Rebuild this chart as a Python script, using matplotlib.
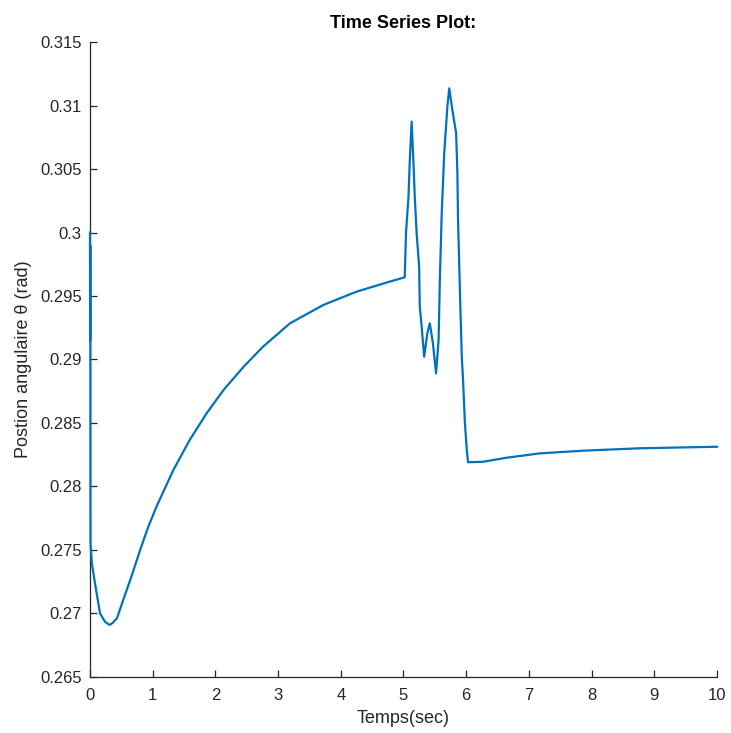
import matplotlib.pyplot as plt

# time (s) and angular position (rad)
t = [0.0, 0.002, 0.004, 0.006, 0.008, 0.012, 0.03, 0.08, 0.16, 0.24, 0.31, 0.36, 0.43, 0.53,
     0.66, 0.80, 0.93, 1.06, 1.33, 1.59, 1.86, 2.13, 2.45, 2.76, 3.19, 3.72, 4.25, 4.78, 5.02,
     5.04, 5.08, 5.10, 5.13, 5.16, 5.18, 5.21, 5.25, 5.26, 5.29, 5.33, 5.38,
     5.42, 5.47, 5.52, 5.56, 5.58, 5.61, 5.65, 5.70, 5.73, 5.78, 5.84, 5.86,
     5.87, 5.89, 5.91, 5.93, 5.95, 5.98, 6.01, 6.03, 6.27, 6.65, 7.18, 7.87,
     8.77, 10.0]
theta = [0.300, 0.2915, 0.2990, 0.2918, 0.2758, 0.2752, 0.27395, 0.27238, 0.27001, 0.26935,
         0.26910, 0.26925, 0.26962, 0.27106, 0.27290, 0.27500, 0.27683, 0.27841, 0.28130,
         0.28366, 0.28576, 0.28760, 0.28943, 0.29101, 0.29285, 0.29429, 0.29534, 0.29613,
         0.29647,
         0.29994, 0.30282, 0.30558, 0.30873, 0.30545, 0.30282, 0.29994, 0.29731,
         0.29416, 0.29258, 0.29022, 0.29206, 0.29285, 0.29127, 0.28891, 0.29154,
         0.29626, 0.30151, 0.30624, 0.30991, 0.31135, 0.30965, 0.30781, 0.30466,
         0.30099, 0.29731, 0.29364, 0.29022, 0.28839, 0.28498, 0.28287, 0.28191,
         0.28195, 0.28227, 0.28261, 0.28282, 0.28301, 0.28313]

plt.rcParams['font.family'] = ['Liberation Sans', 'DejaVu Sans']
grey = '#262626'

fig = plt.figure(figsize=(7.31, 7.33), dpi=100)
ax = fig.add_axes([0.1231, 0.0764, 0.8577, 0.8663])
ax.plot(t, theta, color='#0072BD', linewidth=1.6, zorder=3, clip_on=False)

ax.set_xlim(0, 10)
ax.set_ylim(0.265, 0.315)
ax.set_xticks(range(0, 11))
yt = [0.265, 0.27, 0.275, 0.28, 0.285, 0.29, 0.295, 0.3, 0.305, 0.31, 0.315]
ax.set_yticks(yt)
ax.set_yticklabels(['%g' % v for v in yt])

for s in ['top', 'right']:
    ax.spines[s].set_visible(False)
for s in ['left', 'bottom']:
    ax.spines[s].set_color(grey)
    ax.spines[s].set_linewidth(0.9)
ax.tick_params(direction='in', length=5, width=0.9, colors=grey, labelsize=12)
ax.tick_params(axis='x', pad=8)
ax.tick_params(axis='y', pad=6)

ax.set_title('Time Series Plot:', fontsize=13, fontweight='bold', pad=10)
ax.set_xlabel('Temps(sec)', fontsize=13, color=grey, labelpad=5)
ax.set_ylabel('Postion angulaire θ (rad)', fontsize=13, color=grey, labelpad=6)

fig.savefig('out.png', dpi=100)
